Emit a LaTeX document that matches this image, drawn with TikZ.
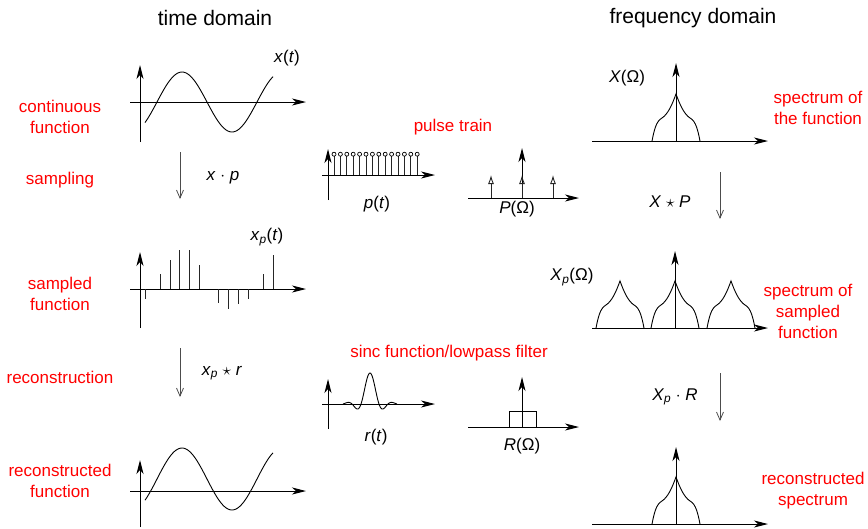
\documentclass[tikz,border=0pt]{standalone}
\usepackage{fontspec}
\setmainfont{Liberation Sans}
\usepackage{tikz}
\usetikzlibrary{arrows.meta,positioning}
\definecolor{lblred}{RGB}{255,0,0}

\begin{document}
\begin{tikzpicture}[
  x=1pt, y=-1pt,
  font=\fontsize{17}{21}\selectfont,
  every node/.style={align=center, inner sep=0pt},
  axis/.style={line width=1pt, -{Stealth[length=14pt,width=7pt,inset=4pt]}},
  flow/.style={black!70, line width=0.8pt, -{Straight Barb[length=8pt,width=7pt]}},
  lbl/.style={text=lblred},
  ttl/.style={font=\fontsize{21}{25}\selectfont},
  curve/.style={line width=0.9pt},
  stem/.style={line width=0.9pt, black!85},
  spectrum/.pic={\draw[curve] (-24,0) .. controls (-22,-10) and (-20,-20) .. (-14,-23)
     .. controls (-8,-27) and (-4,-36) .. (0,-47) .. controls (4,-36) and (8,-27) .. (14,-23)
     .. controls (20,-20) and (22,-10) .. (24,0);}
]
\useasboundingbox (0,0) rectangle (868,528);
% titles
\node[ttl] (tdom) at (215,18) {time domain};
\node[ttl] (fdom) at (693,18) {frequency domain};
% row labels
\node[lbl] (cont) at (60,117) {continuous\\function};
\node[lbl] (samp) at (60,180) {sampling};
\node[lbl] (sfun) at (60,294) {sampled\\function};
\node[lbl] (reco) at (60,377) {reconstruction};
\node[lbl] (rfun) at (60,481) {reconstructed\\function};
\node[lbl] (ptrain) at (453,127) {pulse train};
\node[lbl] (sinc) at (449,353) {sinc function/lowpass filter};
\node[lbl] (sfn) at (818,108) {spectrum of\\the function};
\node[lbl] (ssf) at (808,311) {spectrum of\\sampled\\function};
\node[lbl] (rsp) at (813,491) {reconstructed\\spectrum};

% continuous function
\draw[axis] (130,102) -- (306,102);
\draw[axis] (140,142) -- (140,65);
\draw[curve] plot[domain=145:273, samples=80] (\x, {102-30*sin(3.6*(\x-157))});
\node (xt) at (287,58) {\textit{x}(\textit{t})};
\coordinate (f1a) at (180,152); \coordinate (f1b) at (180,199);
\draw[flow] (f1a) -- (f1b);
\node (xp) at (223,178) {\textit{x} $\cdot$ \textit{p}};

% sampled function
\draw[axis] (130,289) -- (306,289);
\draw[axis] (140,328) -- (140,252);
\foreach \sx/\sh in {145/-10,160/15,170/29,179/39,189/39,199/24,218/-14,228/-20,238/-15,248/-10,263/15,273/34}
  \draw[stem] (\sx,289) -- ++(0,-\sh);
\node (xpt) at (267,237) {\textit{x}\textsubscript{\textit{p}}(\textit{t})};
\coordinate (f2a) at (180,348); \coordinate (f2b) at (180,397);
\draw[flow] (f2a) -- (f2b);
\node (xpr) at (222,373) {\textit{x}\textsubscript{\textit{p}} $\star$ \textit{r}};

% reconstructed function
\draw[axis] (130,491) -- (306,491);
\draw[axis] (140,527) -- (140,460);
\draw[curve] plot[domain=145:273, samples=80] (\x, {479-31*sin(3.6*(\x-157))});

% pulse train p(t)
\draw[axis] (322,175) -- (435,175);
\draw[axis] (328,200) -- (328,149);
\foreach \i in {0,...,13} {
  \draw[stem] (334+\i*6.4,175) -- (334+\i*6.4,156.2);
  \draw[line width=0.7pt] (334+\i*6.4,154.2) circle (2pt);
}
\node (pt) at (377,204) {\textit{p}(\textit{t})};

% P(Omega)
\draw[axis] (468,198) -- (579,198);
\draw[axis] (522,198) -- (522,148);
\foreach \px in {491,522,553}
  \draw[stem, -{Latex[open,length=9pt,width=6pt]}] (\px,198) -- (\px,175);
\node (PO) at (517,209) {\textit{P}(Ω)};

% sinc r(t)
\draw[axis] (322,404) -- (435,404);
\draw[axis] (328,429) -- (328,379);
\draw[curve] plot[domain=-3:3, samples=120] ({370+9*\x}, {404-31*sin(180*\x)/(3.14159*\x)*exp(-0.15*\x*\x)});
\node (rt) at (376,437) {\textit{r}(\textit{t})};

% R(Omega)
\draw[axis] (468,427) -- (579,427);
\draw[axis] (522,427) -- (522,377);
\draw[line width=0.9pt] (509,427) rectangle (536,411);
\node (RO) at (522,446) {\textit{R}(Ω)};

% spectrum X(Omega)
\draw[axis] (592,141) -- (768,141);
\draw[axis] (676,141) -- (676,63);
\pic at (676,141) {spectrum};
\node (XO) at (627,78) {\textit{X}(Ω)};
\coordinate (f3a) at (720,172); \coordinate (f3b) at (720,219);
\draw[flow] (f3a) -- (f3b);
\node (XP) at (670,202) {\textit{X} $\star$ \textit{P}};

% spectrum Xp(Omega)
\draw[axis] (592,328) -- (768,328);
\draw[axis] (675,328) -- (675,251);
\foreach \cx in {620,675,731} \pic at (\cx,328) {spectrum};
\node (XpO) at (572,277) {\textit{X}\textsubscript{\textit{p}}(Ω)};
\coordinate (f4a) at (720,373); \coordinate (f4b) at (720,421);
\draw[flow] (f4a) -- (f4b);
\node (XpR) at (675,397) {\textit{X}\textsubscript{\textit{p}} $\cdot$ \textit{R}};

% reconstructed spectrum
\draw[axis] (592,524) -- (768,524);
\draw[axis] (676,524) -- (676,447);
\pic at (676,524) {spectrum};
\end{tikzpicture}
\end{document}
